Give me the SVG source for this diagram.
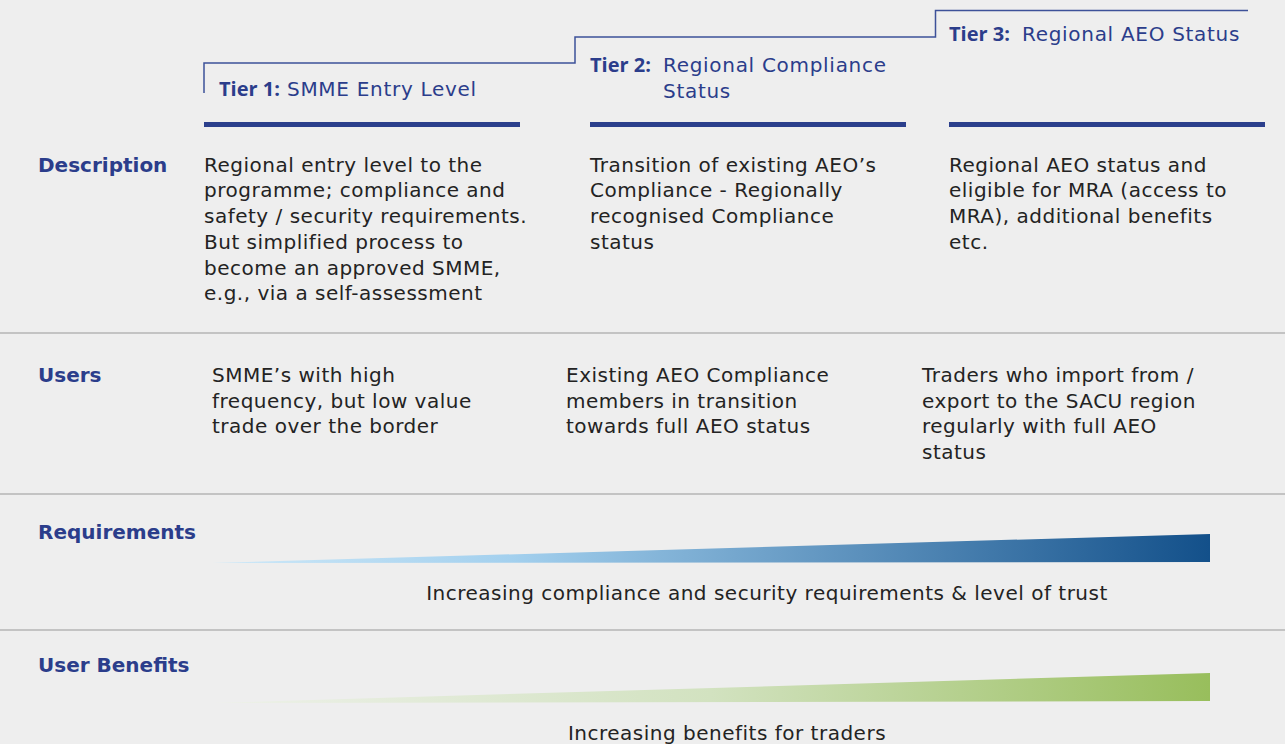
<svg xmlns="http://www.w3.org/2000/svg" width="1285" height="744" viewBox="0 0 1285 744">
<defs>
<linearGradient id="gReq" x1="0" y1="0" x2="1" y2="0">
<stop offset="0" stop-color="#cfe9f8"/>
<stop offset="0.3" stop-color="#a3d0ee"/>
<stop offset="1" stop-color="#13508a"/>
</linearGradient>
<linearGradient id="gBen" x1="0" y1="0" x2="1" y2="0">
<stop offset="0" stop-color="#eef1ea"/>
<stop offset="0.5" stop-color="#d2e2c0"/>
<stop offset="1" stop-color="#98be5c"/>
</linearGradient>
<style>
.bg{fill:#eeeeee}
.t{font-family:"DejaVu Sans","Liberation Sans",sans-serif;font-size:20px;letter-spacing:0.5px;fill:#232323}
.tb{font-family:"DejaVu Sans","Liberation Sans",sans-serif;font-size:20px;letter-spacing:0.7px;fill:#2b3d8b}
.tk{font-family:"Open Sans","Liberation Sans",sans-serif;font-size:20px;font-weight:700;fill:#2b3d8b}
.lab{font-family:"DejaVu Sans","Liberation Sans",sans-serif;font-size:20px;font-weight:700;fill:#2b3d8b}
.sep{stroke:#b5b5b5;stroke-width:1.5}
.bar{fill:#2b3f8c}
.step{fill:none;stroke:#3d5199;stroke-width:1.5}
.cap{font-family:"DejaVu Sans","Liberation Sans",sans-serif;font-size:20px;letter-spacing:0.5px;fill:#232323;text-anchor:middle}
</style>
</defs>
<rect class="bg" x="0" y="0" width="1285" height="744"/>

<g id="steps">
<path class="step" d="M204,93 V63 H575 V37 H935.5 V10.5 H1248"/>
</g>

<g id="tier1">
<text class="tk" x="219" y="96">Tier 1:</text>
<text class="tb" x="287" y="96">SMME Entry Level</text>
<rect class="bar" x="204" y="122" width="316" height="5"/>
</g>
<g id="tier2">
<text class="tk" x="590" y="72">Tier 2:</text>
<text class="tb" x="663" y="72">Regional Compliance</text>
<text class="tb" x="663" y="98">Status</text>
<rect class="bar" x="590" y="122" width="316" height="5"/>
</g>
<g id="tier3">
<text class="tk" x="949" y="41">Tier 3:</text>
<text class="tb" x="1022" y="41">Regional AEO Status</text>
<rect class="bar" x="949" y="122" width="316" height="5"/>
</g>

<g id="separators">
<line class="sep" x1="0" y1="333" x2="1285" y2="333"/>
<line class="sep" x1="0" y1="494" x2="1285" y2="494"/>
<line class="sep" x1="0" y1="630" x2="1285" y2="630"/>
</g>

<g id="row-description">
<text class="lab" x="38" y="172">Description</text>
<text class="t" x="204" y="172">Regional entry level to the</text>
<text class="t" x="204" y="197">programme; compliance and</text>
<text class="t" x="204" y="223">safety / security requirements.</text>
<text class="t" x="204" y="249">But simplified process to</text>
<text class="t" x="204" y="275">become an approved SMME,</text>
<text class="t" x="204" y="300">e.g., via a self-assessment</text>
<text class="t" x="590" y="172">Transition of existing AEO’s</text>
<text class="t" x="590" y="197">Compliance - Regionally</text>
<text class="t" x="590" y="223">recognised Compliance</text>
<text class="t" x="590" y="249">status</text>
<text class="t" x="949" y="172">Regional AEO status and</text>
<text class="t" x="949" y="197">eligible for MRA (access to</text>
<text class="t" x="949" y="223">MRA), additional benefits</text>
<text class="t" x="949" y="249">etc.</text>
</g>

<g id="row-users">
<text class="lab" x="38" y="382">Users</text>
<text class="t" x="212" y="382">SMME’s with high</text>
<text class="t" x="212" y="408">frequency, but low value</text>
<text class="t" x="212" y="433">trade over the border</text>
<text class="t" x="566" y="382">Existing AEO Compliance</text>
<text class="t" x="566" y="408">members in transition</text>
<text class="t" x="566" y="433">towards full AEO status</text>
<text class="t" x="922" y="382">Traders who import from /</text>
<text class="t" x="922" y="408">export to the SACU region</text>
<text class="t" x="922" y="433">regularly with full AEO</text>
<text class="t" x="922" y="459">status</text>
</g>

<g id="row-requirements">
<text class="lab" x="38" y="539">Requirements</text>
<polygon points="212,563 1210,534 1210,562" fill="url(#gReq)"/>
<text class="cap" x="767" y="600">Increasing compliance and security requirements &amp; level of trust</text>
</g>

<g id="row-benefits">
<text class="lab" x="38" y="672">User Benefits</text>
<polygon points="212,703 1210,673 1210,701" fill="url(#gBen)"/>
<text class="cap" x="727" y="740">Increasing benefits for traders</text>
</g>
</svg>
